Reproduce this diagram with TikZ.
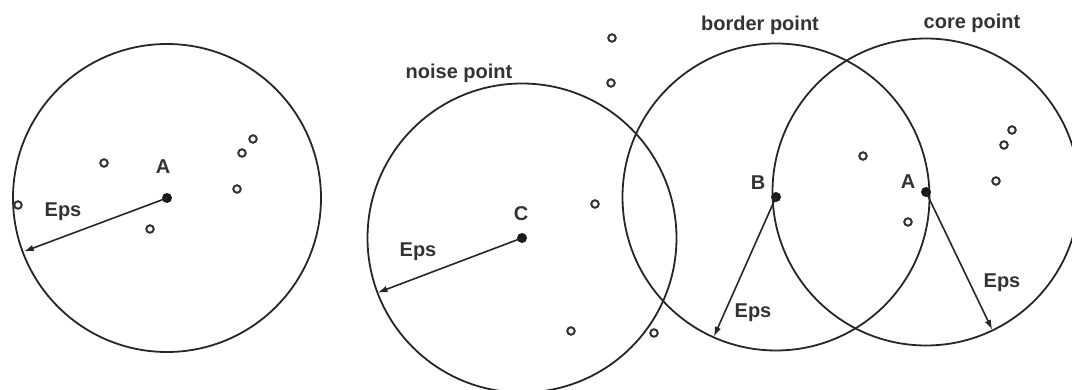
\documentclass[tikz,border=0pt]{standalone}
\usepackage{fontspec}
\setmainfont{Liberation Sans}
\usetikzlibrary{arrows.meta}
\tikzset{
  region/.style={draw=black!85, line width=1.8pt},
  core/.style={circle, fill=black!90, inner sep=0pt, minimum size=10pt},
  pt/.style={circle, draw=black!80, line width=2pt, inner sep=0pt, minimum size=7.5pt},
  lab/.style={font=\bfseries\fontsize{20}{22}\selectfont, text=black!80, inner sep=1pt},
  radius/.style={draw=black!85, line width=1.6pt, -{Latex[length=10pt,width=6.5pt]}}
}
\begin{document}
\begin{tikzpicture}[x=1pt,y=-1pt]
\useasboundingbox (0,0) rectangle (1072,390);
% ---- left figure
\node[core] (A1) at (167,198) {};
\draw[region] (A1.center) circle (154);
\node[lab] (lA1) at (163,167) {A};
\coordinate (e1) at (23.7,251.6);
\draw[radius] (A1.center) -- (e1);
\node[lab] (eps1) at (63,212) {Eps};
\node[pt] (p1) at (104,163) {};
\node[pt] (p2) at (18,205) {};
\node[pt] (p3) at (150,229) {};
\node[pt] (p4) at (242,153) {};
\node[pt] (p5) at (253,139) {};
\node[pt] (p6) at (237,189) {};
% ---- noise point
\node[core] (C) at (522,238) {};
\draw[region] (C.center) circle (154.5);
\node[lab] (lC) at (521,214) {C};
\coordinate (e2) at (377.5,292.7);
\draw[radius] (C.center) -- (e2);
\node[lab] (eps2) at (418,252) {Eps};
\node[lab] (noise) at (459,73) {noise point};
\node[pt] (q1) at (612,38) {};
\node[pt] (q2) at (611,83) {};
\node[pt] (q3) at (595,204) {};
\node[pt] (q4) at (571,331) {};
\node[pt] (q5) at (654,333) {};
% ---- border point
\node[core] (B) at (776,197) {};
\draw[region] (B.center) circle (153.5);
\node[lab] (lB) at (758,183) {B};
\coordinate (e3) at (713.8,336.8);
\draw[radius] (B.center) -- (e3);
\node[lab] (eps3) at (753,313) {Eps};
\node[lab] (border) at (760,25) {border point};
% ---- core point
\node[core] (A2) at (926,192) {};
\draw[region] (A2.center) circle (153.5);
\node[lab] (lA2) at (908,182) {A};
\coordinate (e4) at (992.3,329.9);
\draw[radius] (A2.center) -- (e4);
\node[lab] (eps4) at (1002,283) {Eps};
\node[lab] (corel) at (972,23) {core point};
\node[pt] (r1) at (863,156) {};
\node[pt] (r2) at (908,222) {};
\node[pt] (r3) at (996,181) {};
\node[pt] (r4) at (1004,145) {};
\node[pt] (r5) at (1012,130) {};
\end{tikzpicture}
\end{document}
